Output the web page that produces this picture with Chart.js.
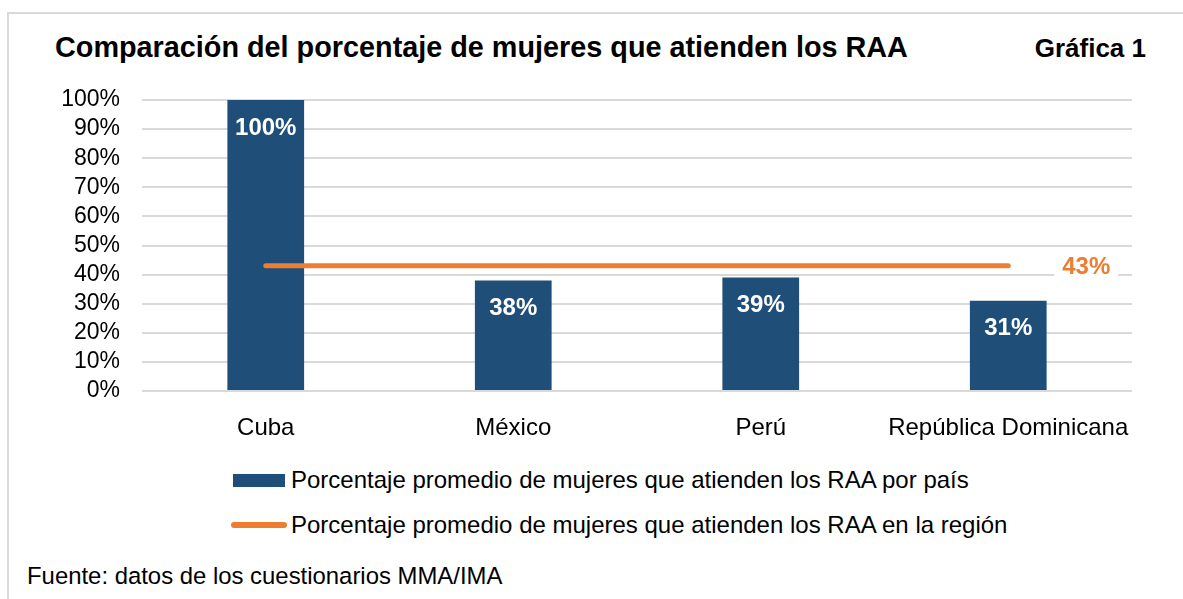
<!DOCTYPE html>
<html lang="es">
<head>
  <meta charset="UTF-8">
  <title>Gráfica 1</title>
  <script src="https://cdn.jsdelivr.net/npm/chart.js"></script>
  <style>
    body {
      margin: 0;
      background: #fff;
      font-family: "Liberation Sans", Arial, sans-serif;
      color: #000;
    }
    #wrap {
      position: relative;
      width: 1183px;
      height: 599px;
      overflow: hidden;
    }
    #frame {
      position: absolute;
      left: 7px;
      top: 12px;
      width: 1300px;
      height: 700px;
      border: 2px solid #d9d9d9;
      box-sizing: border-box;
    }
    #title {
      position: absolute;
      left: 55px;
      top: 31px;
      font-weight: bold;
      font-size: 28.8px;
      white-space: nowrap;
    }
    #num {
      position: absolute;
      right: 37px;
      top: 33px;
      font-weight: bold;
      font-size: 26px;
    }
    #chartBox {
      position: absolute;
      left: 0;
      top: 0;
      width: 1183px;
      height: 450px;
    }
    .leg {
      position: absolute;
      left: 231px;
      font-size: 24px;
      white-space: nowrap;
      display: flex;
      align-items: center;
    }
    .sw-bar {
      display: inline-block;
      width: 52px;
      height: 13px;
      background: #1f4e79;
      margin: 0 6px 0 2px;
    }
    .sw-line {
      display: inline-block;
      width: 56px;
      height: 6px;
      border-radius: 3px;
      background: #ed7d31;
      margin-right: 4px;
    }
    #source {
      position: absolute;
      left: 27px;
      top: 562px;
      font-size: 23.9px;
      white-space: nowrap;
    }
  </style>
</head>
<body>
  <div id="wrap">
    <div id="frame"></div>
    <div id="title">Comparación del porcentaje de mujeres que atienden los RAA</div>
    <div id="num">Gráfica 1</div>
    <div id="chartBox"><canvas id="chart"></canvas></div>
    <div class="leg" style="top:466px"><span class="sw-bar"></span>Porcentaje promedio de mujeres que atienden los RAA por país</div>
    <div class="leg" style="top:511px"><span class="sw-line"></span>Porcentaje promedio de mujeres que atienden los RAA en la región</div>
    <div id="source">Fuente: datos de los cuestionarios MMA/IMA</div>
  </div>

  <script>
    const countries = ['Cuba', 'México', 'Perú', 'República Dominicana'];
    const countryValues = [100, 38, 39, 31];
    const regionValues = [43, 43, 43, 43];
    const regionLabel = '43%';

    const FONT = '"Liberation Sans", Arial, sans-serif';

    // white labels inside bars + the orange label at the end of the line
    const labelPlugin = {
      id: 'labels',
      afterDatasetsDraw(chart) {
        const c = chart.ctx;
        c.save();
        c.font = 'bold 24px ' + FONT;
        c.textAlign = 'center';
        c.textBaseline = 'middle';
        c.fillStyle = '#fff';
        chart.getDatasetMeta(1).data.forEach((bar, i) => {
          c.fillText(countryValues[i] + '%', bar.x, bar.y + 28);
        });
        const pts = chart.getDatasetMeta(0).data;
        const last = pts[pts.length - 1];
        const x = last.x + 78, y = last.y + 2;
        c.fillStyle = '#fff';
        c.fillRect(x - 32, y - 16, 64, 32);
        c.fillStyle = '#ed7d31';
        c.fillText(regionLabel, x, y);
        c.restore();
      }
    };

    new Chart(document.getElementById('chart'), {
      data: {
        labels: countries,
        datasets: [
          {
            type: 'line',
            label: 'Porcentaje promedio de mujeres que atienden los RAA en la región',
            data: regionValues,
            borderColor: '#ed7d31',
            borderWidth: 5,
            borderCapStyle: 'round',
            pointRadius: 0,
            order: 0
          },
          {
            type: 'bar',
            label: 'Porcentaje promedio de mujeres que atienden los RAA por país',
            data: countryValues,
            backgroundColor: '#1f4e79',
            barPercentage: 0.31,
            categoryPercentage: 1,
            order: 1
          }
        ]
      },
      options: {
        responsive: true,
        maintainAspectRatio: false,
        animation: false,
        layout: { padding: { top: 100, right: 51, left: 0, bottom: 0 } },
        plugins: {
          legend: { display: false },
          tooltip: { enabled: false }
        },
        scales: {
          x: {
            grid: { display: false },
            border: { display: false },
            ticks: { color: '#000', font: { family: FONT, size: 24 }, padding: 15, maxRotation: 0, autoSkip: false },
            afterFit(s) { s.height = 59; }
          },
          y: {
            min: 0,
            max: 100,
            grid: { color: '#d9d9d9', lineWidth: 2, drawTicks: false },
            border: { display: false },
            ticks: {
              stepSize: 10,
              autoSkip: false,
              color: '#000',
              padding: 22,
              font: { family: FONT, size: 23 },
              callback: v => v + '%'
            },
            afterFit(s) { s.width = 142; }
          }
        }
      },
      plugins: [labelPlugin]
    });
  </script>
</body>
</html>
